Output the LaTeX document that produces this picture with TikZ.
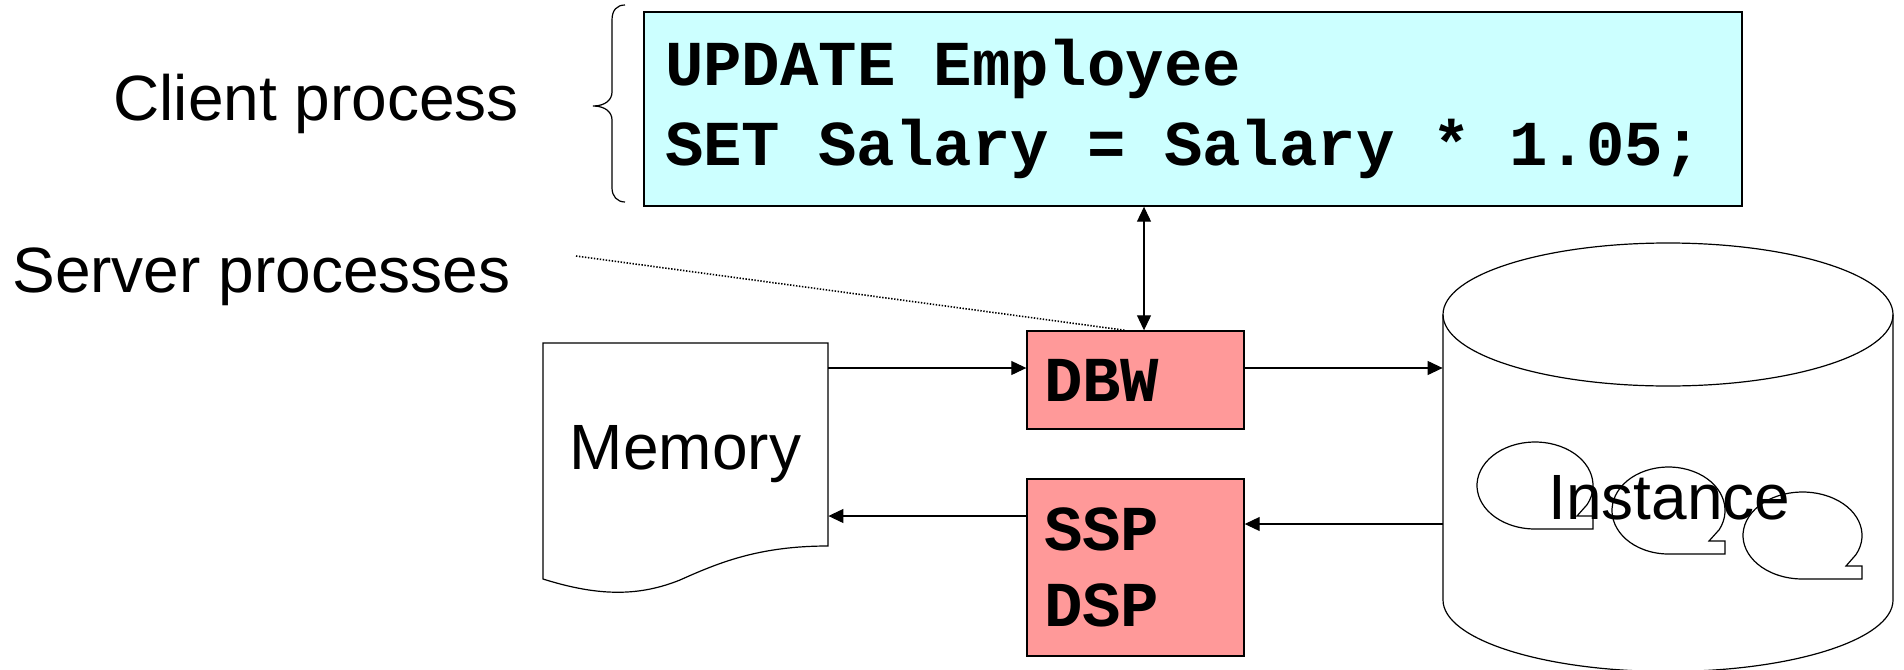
\documentclass[tikz,border=0pt]{standalone}
\usepackage{fontspec}
\setmainfont{Liberation Sans}
\setmonofont{Liberation Mono}
\usepackage{tikz}
\usetikzlibrary{arrows.meta}
\usepackage{xcolor}
\definecolor{sqlcyan}{RGB}{204,255,255}
\definecolor{procpink}{RGB}{255,153,153}
\newcommand\gap{\hspace*{19.2pt}}

\begin{document}
\begin{tikzpicture}[x=0.5pt, y=-0.5pt,
    >={Triangle[length=7.5pt,width=7pt]},
    label/.style={font=\fontsize{32}{38}\selectfont, inner sep=0pt},
    codebox/.style={draw, line width=0.7pt, align=left,
        font=\ttfamily\bfseries\fontsize{32}{38}\selectfont},
    arr/.style={line width=0.55pt, ->},
    outline/.style={line width=0.6pt}]
    \useasboundingbox (0,0) rectangle (1904,669);
    % Cliente
    \node[codebox, fill=sqlcyan, minimum width=549pt, minimum height=97pt,
        text width=528pt, inner xsep=10.5pt,
        font=\ttfamily\bfseries\fontsize{32}{40}\selectfont] (sql) at (1193,109)
        {UPDATE\gap Employee\\SET\gap Salary\gap =\gap Salary\gap *\gap 1.05;};
    \draw[outline] (625,5) .. controls (617,5) and (612,10) .. (612,20) -- (612,92)
        .. controls (612,100) and (605,106) .. (593,106)
        .. controls (605,106) and (612,112) .. (612,120) -- (612,188)
        .. controls (612,196) and (617,202) .. (625,202);
    \node[label, anchor=base west] (client) at (113,120) {Client process};
    \node[label, anchor=base west] (server) at (12,292) {Server processes};
    % Processos do servidor
    \node[codebox, fill=procpink, minimum width=108.5pt, minimum height=49pt,
        text width=91.5pt, inner xsep=8.5pt] (dbw) at (1135.5,380) {DBW};
    \node[codebox, fill=procpink, minimum width=108.5pt, minimum height=88.5pt,
        text width=91.5pt, inner xsep=8.5pt] (ssp) at (1135.5,567.5) {SSP\\DSP};
    % Memoria
    \draw[outline] (543,343) -- (828,343) -- (828,546)
        .. controls (760,546) and (720,562) .. (680,580)
        .. controls (640,596) and (600,597) .. (543,579) -- cycle;
    \node[label, minimum width=142.5pt] (mem) at (685.5,454) {Memory};
    % Instancia
    \node[minimum width=225pt, minimum height=214.5pt, inner sep=0pt] (db) at (1668,457.5) {};
    \draw[outline] (1443,314.5) -- (1443,600)
        arc[start angle=180, end angle=360, x radius=112.5pt, y radius=35.75pt] -- (1893,314.5);
    \draw[outline] (1668,314.5) ellipse [x radius=112.5pt, y radius=35.75pt];
    \draw[line width=0.6pt] (1535,485.5) ++(-26:29pt and 21.75pt)
        arc[start angle=-26, end angle=270, x radius=29pt, y radius=21.75pt]
        -- ++(58,0) -- ++(0,-13) -- ++(-16,0) -- cycle;
    \draw[line width=0.6pt] (1668.5,510.5) ++(-26:28.25pt and 21.75pt)
        arc[start angle=-26, end angle=270, x radius=28.25pt, y radius=21.75pt]
        -- ++(56.5,0) -- ++(0,-13) -- ++(-16,0) -- cycle;
    \draw[line width=0.6pt] (1802.5,535.5) ++(-26:29.75pt and 21.75pt)
        arc[start angle=-26, end angle=270, x radius=29.75pt, y radius=21.75pt]
        -- ++(59.5,0) -- ++(0,-13) -- ++(-16,0) -- cycle;
    \node[label, anchor=base] (inst) at (1669.5,519) {Instance};
    % Setas
    \coordinate (srvtip) at (576,256);
    \coordinate (dbwtop) at ([xshift=4.25pt]dbw.north);
    \coordinate (dbwin) at ([yshift=6pt]dbw.west);
    \coordinate (dbwout) at ([yshift=6pt]dbw.east);
    \coordinate (sspin) at ([yshift=21.75pt]ssp.east);
    \coordinate (sspout) at ([yshift=25.75pt]ssp.west);
    \draw[line width=0.8pt, dash pattern=on 0.7pt off 0.8pt] (srvtip) -- ([xshift=-5.25pt]dbw.north);
    \draw[arr, <->] (dbwtop) -- (dbwtop |- sql.south);
    \draw[arr] (mem.east |- dbwin) -- (dbwin);
    \draw[arr] (dbwout) -- (db.west |- dbwout);
    \draw[arr] (db.west |- sspin) -- (sspin);
    \draw[arr] (sspout) -- (mem.east |- sspout);
\end{tikzpicture}
\end{document}
